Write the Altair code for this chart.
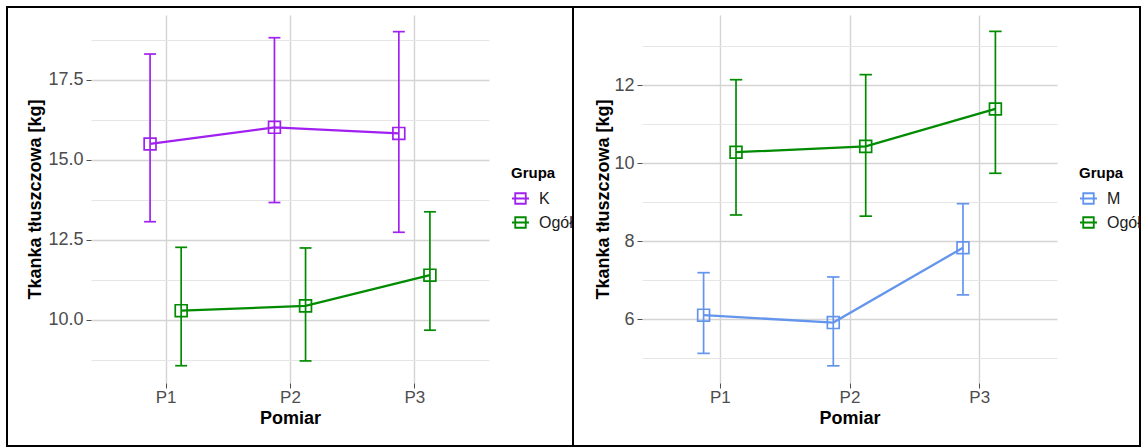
import altair as alt
import pandas as pd

# ---------------- data ----------------
pomiar = ["P1", "P2", "P3"]

# left panel (K vs Ogół)
k_mean = [15.50, 16.02, 15.83]
k_lo = [13.07, 13.67, 12.74]
k_hi = [18.31, 18.82, 19.01]
ogol_l_mean = [10.29, 10.44, 11.40]
ogol_l_lo = [8.57, 8.72, 9.68]
ogol_l_hi = [12.27, 12.25, 13.38]

# right panel (M vs Ogół)
m_mean = [6.10, 5.91, 7.83]
m_lo = [5.12, 4.80, 6.62]
m_hi = [7.19, 7.08, 8.96]
ogol_r_mean = [10.28, 10.43, 11.39]
ogol_r_lo = [8.67, 8.64, 9.74]
ogol_r_hi = [12.14, 12.27, 13.38]

left_groups = ["K", "Ogół"]
right_groups = ["M", "Ogół"]
left_colors = ["#A020F0", "#008B00"]
right_colors = ["#6495ED", "#008B00"]

left_y_ticks = [8.75, 10, 11.25, 12.5, 13.75, 15, 16.25, 17.5, 18.75]
right_y_ticks = [5, 6, 7, 8, 9, 10, 11, 12, 13]

DODGE = 0.125      # half of the dodge width (x units)
CAP_HALF = 0.048   # half width of error-bar caps (x units)

FONT = "Liberation Sans"
LEGEND_SYMBOL = "M-1,0L1,0M-0.62,-0.62L0.62,-0.62L0.62,0.62L-0.62,0.62Z"


def make_df(groups, series):
    rows = []
    for g, (means, los, his) in zip(groups, series):
        for i, p in enumerate(pomiar):
            rows.append({"Pomiar": p, "idx": i + 1, "Grupa": g,
                         "mean": means[i], "lo": los[i], "hi": his[i]})
    return pd.DataFrame(rows)


def panel(df, groups, colors, y_domain, y_ticks, major_test, label_fmt,
          width, legend_x, frame, title_x):
    cond = lambda a, b: {"condition": {"test": major_test, "value": a}, "value": b}
    x_enc = alt.X("xpos:Q", scale=alt.Scale(domain=[0.4, 3.6], nice=False, zero=False),
                  axis=alt.Axis(values=[1, 2, 3], labelExpr="'P' + datum.value",
                                title="Pomiar", domain=False, tickSize=5,
                                tickColor="#4D4D4D", labelPadding=1,
                                gridColor="#D4D4D4", gridWidth=1.4,
                                labelFontSize=17, labelColor="#4D4D4D", labelFont=FONT,
                                titleFontSize=18, titleFont=FONT, titleFontWeight="bold",
                                titleColor="#000000", titleY=35, titleBaseline="middle"))
    y_axis = alt.Axis(values=y_ticks, title="Tkanka tłuszczowa [kg]", domain=False,
                      labelExpr=f"{major_test} ? format(datum.value, '{label_fmt}') : ''",
                      tickSize=5, tickColor="#4D4D4D", labelPadding=3,
                      tickOpacity=cond(1, 0),
                      gridColor=cond("#D4D4D4", "#E6E6E6"),
                      gridWidth=cond(1.4, 1.0),
                      labelFontSize=18, labelColor="#4D4D4D", labelFont=FONT,
                      titleFontSize=18, titleFont=FONT, titleFontWeight="bold",
                      titleColor="#000000", titleX=title_x, titleBaseline="middle")
    y_scale = alt.Scale(domain=y_domain, nice=False, zero=False)
    scale = alt.Scale(domain=groups, range=colors)
    color = alt.Color("Grupa:N", scale=scale,
                      legend=alt.Legend(orient="none", direction="vertical",
                                        legendX=legend_x, legendY=151, title="Grupa",
                                        titleFont=FONT, titleFontSize=15,
                                        titleFontWeight="bold", titleColor="#000000",
                                        titlePadding=8, labelFont=FONT,
                                        labelFontSize=16, labelColor="#1A1A1A",
                                        labelOffset=9, rowPadding=5,
                                        symbolType=LEGEND_SYMBOL, symbolSize=289,
                                        symbolStrokeWidth=1.8, symbolOpacity=1,
                                        symbolFillColor="transparent"))
    base = alt.Chart(df).transform_calculate(
        xpos=f"datum.idx + (datum.Grupa == 'Ogół' ? {DODGE} : -{DODGE})"
    ).transform_calculate(
        xl=f"datum.xpos - {CAP_HALF}", xr=f"datum.xpos + {CAP_HALF}"
    )
    line = base.mark_line(strokeWidth=2.3).encode(
        x=x_enc, y=alt.Y("mean:Q", scale=y_scale, axis=y_axis), color=color,
        detail="Grupa:N", order="idx:Q")
    err = base.mark_rule(strokeWidth=1.7).encode(
        x="xpos:Q", y="lo:Q", y2="hi:Q", color=color)
    cap_hi = base.mark_rule(strokeWidth=1.7).encode(
        x="xl:Q", x2="xr:Q", y="hi:Q", color=color)
    cap_lo = base.mark_rule(strokeWidth=1.7).encode(
        x="xl:Q", x2="xr:Q", y="lo:Q", color=color)
    pts = base.mark_point(shape="square", filled=False, size=140, strokeWidth=1.7,
                          opacity=1).encode(x="xpos:Q", y="mean:Q", color=color)
    fx, fx2 = frame
    border = alt.Chart(alt.Data(values=[{"a": 1}])).mark_rect(
        fill="transparent", stroke="#000000", strokeWidth=2
    ).encode(x=alt.value(fx), x2=alt.value(fx2), y=alt.value(-8), y2=alt.value(431))
    return alt.layer(border, line, err, cap_hi, cap_lo, pts).properties(
        width=width, height=368)


left_df = make_df(left_groups, [(k_mean, k_lo, k_hi),
                                (ogol_l_mean, ogol_l_lo, ogol_l_hi)])
right_df = make_df(right_groups, [(m_mean, m_lo, m_hi),
                                  (ogol_r_mean, ogol_r_lo, ogol_r_hi)])

left = panel(left_df, left_groups, left_colors, [8.03, 19.53], left_y_ticks,
             "datum.value % 2.5 == 0", ".1f", 398, 420, (-84, 482), -56)
right = panel(right_df, right_groups, right_colors, [4.36, 13.80], right_y_ticks,
              "datum.value % 2 == 0", "d", 415, 437, (-69, 498), -39)

chart = alt.hconcat(left, right, spacing=153).resolve_scale(
    color="independent", x="independent", y="independent"
).resolve_legend(color="independent").properties(
    bounds="flush",
    padding={"left": 6, "top": 6, "right": 0, "bottom": 0},
    background="white",
).configure_view(stroke=None)

chart.save("out.html", embed_options={"renderer": "svg", "actions": False})
